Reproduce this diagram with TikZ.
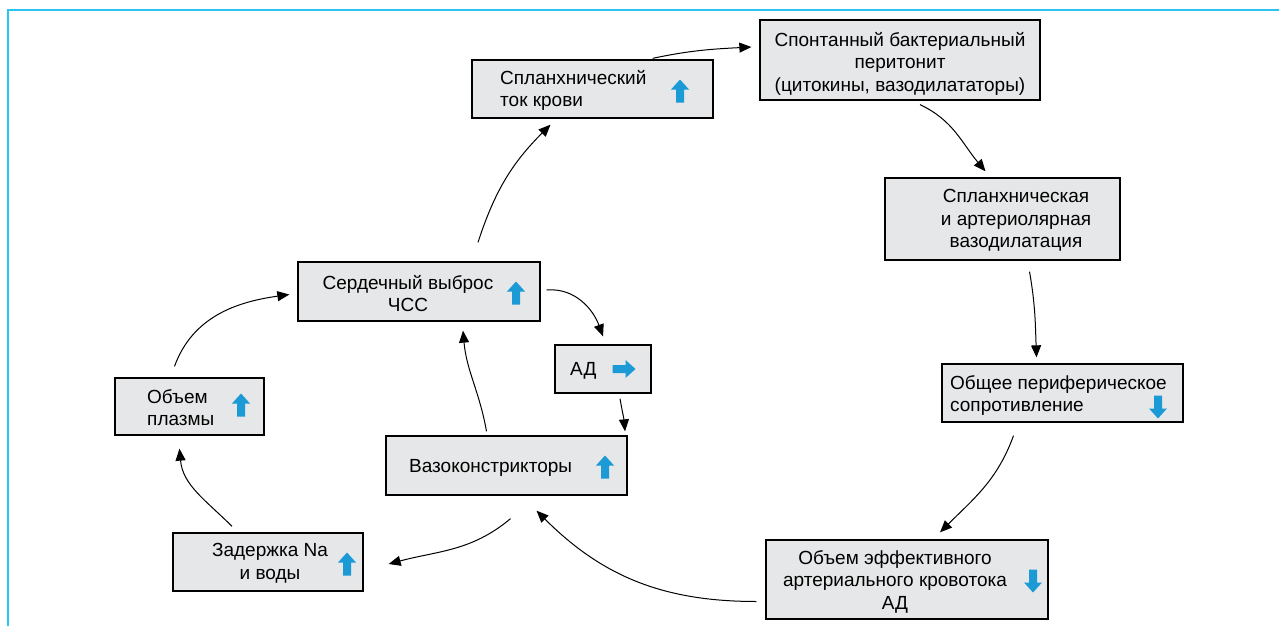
\documentclass[tikz,border=0pt]{standalone}
\usepackage{fontspec}
\setmainfont{Liberation Sans}
\usetikzlibrary{arrows.meta}
\definecolor{frameblue}{HTML}{2BC4F2}
\definecolor{iconblue}{HTML}{1B9AD6}
\definecolor{boxgray}{HTML}{E6E7E8}
\tikzset{
  box/.style={draw=black, fill=boxgray, line width=1.3pt, rectangle, inner sep=0pt},
  txt/.style={font=\fontsize{19}{22.5}\selectfont, inner sep=0pt, align=center, yshift=-1.5pt},
  txtl/.style={font=\fontsize{19}{22.5}\selectfont, inner sep=0pt, align=left, yshift=-1.5pt},
  conn/.style={line width=1pt, -{Triangle[length=12pt,width=10pt]}},
  uparrow/.pic={\fill[iconblue] (0,11.5)--(9,1.5)--(4,1.5)--(4,-11.5)--(-4,-11.5)--(-4,1.5)--(-9,1.5)--cycle;}
}
\begin{document}
\begin{tikzpicture}[x=1pt,y=1pt]
\useasboundingbox (0,0) rectangle (1279,-626);
\fill[white] (0,0) rectangle (1279,-626);
% frame
\draw[frameblue, line width=2pt] (7.5,-626) -- (7.5,-10.5) -- (1279,-10.5);

% boxes
\node[box, minimum width=280pt, minimum height=80pt] (b1) at (900,-60) {};
\node[box, minimum width=241pt, minimum height=58pt] (b2) at (592.5,-89) {};
\node[box, minimum width=235pt, minimum height=82pt] (b3) at (1002.5,-219) {};
\node[box, minimum width=241pt, minimum height=58pt] (b4) at (1062.5,-393) {};
\node[box, minimum width=282pt, minimum height=79pt] (b5) at (907,-579.5) {};
\node[box, minimum width=241pt, minimum height=59pt] (b6) at (506.5,-465.5) {};
\node[box, minimum width=190pt, minimum height=58pt] (b7) at (268,-562) {};
\node[box, minimum width=149pt, minimum height=57pt] (b8) at (189.5,-406.5) {};
\node[box, minimum width=242pt, minimum height=59pt] (b9) at (419,-291.5) {};
\node[box, minimum width=96pt, minimum height=48pt] (b10) at (603,-369) {};

% texts
\node[txt] (t1) at (900,-62) {Спонтанный бактериальный\\перитонит\\(цитокины, вазодилататоры)};
\node[txtl, anchor=west] (t2) at (500,-89) {Спланхнический\\ток крови};
\node[txt] (t3) at (1016,-219) {Спланхническая\\и артериолярная\\вазодилатация};
\node[txtl, anchor=west] (t4) at (950,-394) {Общее периферическое\\сопротивление};
\node[txt] (t5) at (895,-580) {Объем эффективного\\артериального кровотока\\АД};
\node[txtl, anchor=west] (t6) at (409,-466) {Вазоконстрикторы};
\node[txt] (t7) at (270,-562) {Задержка Na\\и воды};
\node[txtl, anchor=west] (t8) at (147,-406) {Объем\\плазмы};
\node[txt] (t9) at (408,-292) {Сердечный выброс\\ЧСС};
\node[txtl, anchor=west] (t10) at (570,-369) {АД};

% icons
\pic (i2) at (680,-91) {uparrow};
\pic (i9) at (516,-293) {uparrow};
\pic[rotate=-90] (i10) at (624,-369) {uparrow};
\pic (i6) at (605,-467) {uparrow};
\pic (i8) at (241,-405) {uparrow};
\pic (i7) at (347,-564) {uparrow};
\pic[rotate=180] (i4) at (1158,-407) {uparrow};
\pic[rotate=180] (i5) at (1033,-581) {uparrow};

% connectors
\draw[conn] ([xshift=-61pt,yshift=1pt]b2.north east) to[out=12,in=183] ([xshift=-8pt,yshift=13pt]b1.west);
\draw[conn] ([xshift=20pt,yshift=-4pt]b1.south) to[out=-25,in=130] ([xshift=-17pt,yshift=6pt]b3.north);
\draw[conn] ([xshift=27pt,yshift=-11pt]b3.south) to[out=-80,in=92] ([xshift=-26pt,yshift=6pt]b4.north);
\draw[conn] ([xshift=-49pt,yshift=-13pt]b4.south) to[out=-110,in=45] ([xshift=33pt,yshift=7pt]b5.north);
\draw[conn] ([xshift=-9pt,yshift=-22pt]b5.west) to[out=180,in=-45] ([xshift=30pt,yshift=-15pt]b6.south);
\draw[conn] ([xshift=4pt,yshift=-23pt]b6.south) to[out=-140,in=15] ([xshift=25pt,yshift=-2pt]b7.east);
\draw[conn] ([xshift=-36pt,yshift=6pt]b7.north) to[out=135,in=-85] ([xshift=-10pt,yshift=-13pt]b8.south);
\draw[conn] ([xshift=-15pt,yshift=11pt]b8.north) to[out=70,in=188] ([xshift=-8pt,yshift=-3pt]b9.west);
\draw[conn] ([xshift=59pt,yshift=19pt]b9.north) to[out=72,in=-135] ([xshift=-42pt,yshift=-6pt]b2.south);
\draw[conn] ([xshift=-20pt,yshift=4pt]b6.north) to[out=100,in=-85] ([xshift=44pt,yshift=-9pt]b9.south);
\draw[conn] ([xshift=6pt,yshift=1.5pt]b9.east) to[out=5,in=110] ([yshift=8pt]b10.north);
\draw[conn] ([xshift=17pt,yshift=-5pt]b10.south) to[out=-80,in=95] ([xshift=118.5pt,yshift=4pt]b6.north);
\end{tikzpicture}
\end{document}
